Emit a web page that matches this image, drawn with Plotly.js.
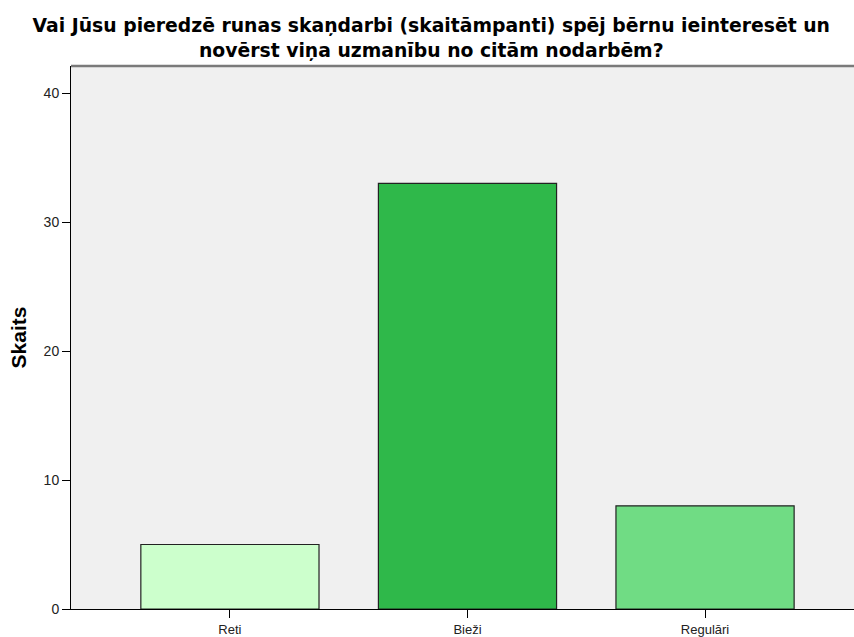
<!DOCTYPE html>
<html>
<head>
<meta charset="utf-8">
<script src="https://cdn.plot.ly/plotly-3.0.1.min.js"></script>
<style>html,body{margin:0;padding:0;background:#fff;}#chart{width:854px;height:637px;}</style>
</head>
<body>
<div id="chart"></div>
<script>
const categories = ["Reti", "Bieži", "Regulāri"];
const counts = [5, 33, 8];
const barColors = ["#ccffcc", "#2fb84a", "#70dc84"];
const yTicks = [0, 10, 20, 30, 40];
const titleText = "Vai Jūsu pieredzē runas skaņdarbi (skaitāmpanti) spēj bērnu ieinteresēt un<br>novērst viņa uzmanību no citām nodarbēm?";

const trace = {
  type: "bar",
  x: categories,
  y: counts,
  width: 0.75,
  marker: {color: barColors, line: {color: "#222222", width: 1.2}},
  hoverinfo: "x+y"
};

const layout = {
  width: 854, height: 637,
  margin: {l: 71, r: 0, t: 66, b: 28},
  paper_bgcolor: "#ffffff",
  plot_bgcolor: "#f0f0f0",
  font: {family: "Liberation Sans, Arial, sans-serif", color: "#000"},
  title: {
    text: titleText,
    font: {size: 18.8, family: "DejaVu Sans, sans-serif", weight: "bold", color: "#000"},
    x: 0.505, xanchor: "center", y: 0.949, yanchor: "top"
  },
  xaxis: {
    range: [-0.669, 2.627],
    showline: true, linecolor: "#000", linewidth: 1,
    ticks: "outside", ticklen: 8, tickcolor: "#000",
    tickfont: {size: 13, color: "#222"},
    showgrid: false, zeroline: false, fixedrange: true
  },
  yaxis: {
    range: [0, 42.1],
    tickvals: yTicks,
    showline: true, linecolor: "#000", linewidth: 1,
    ticks: "outside", ticklen: 8, tickcolor: "#000",
    tickfont: {size: 14, color: "#222"},
    showgrid: false, zeroline: false,
    title: {text: "Skaits", font: {size: 21, weight: "bold", color: "#000"}, standoff: 11}
  },
  shapes: [
    {type: "line", xref: "paper", yref: "paper", x0: 0, x1: 1, y0: 1, y1: 1,
     line: {color: "#7a7a7a", width: 2.5}}
  ],
  showlegend: false
};

Plotly.newPlot("chart", [trace], layout, {displayModeBar: false, staticPlot: true});
</script>
</body>
</html>
